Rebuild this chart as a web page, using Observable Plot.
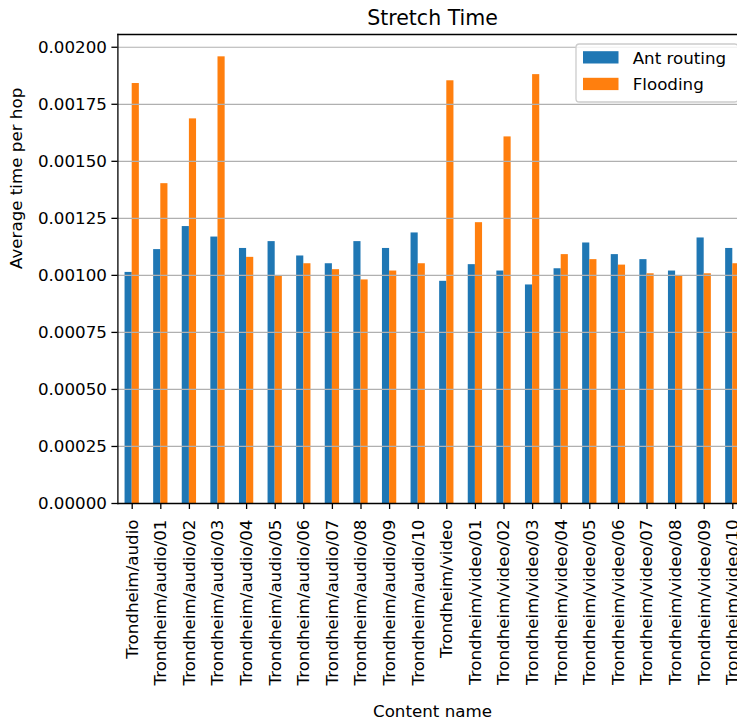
<!DOCTYPE html>
<html>
<head>
<meta charset="utf-8">
<script src="https://cdn.jsdelivr.net/npm/d3@7"></script>
<script src="https://cdn.jsdelivr.net/npm/@observablehq/plot@0.6"></script>
<style>
  html, body { margin: 0; padding: 0; background: #fff; overflow: hidden; }
  #chart svg { display: block; }
</style>
</head>
<body>
<div id="chart"></div>
<script>
// Content items along the x axis
const categories = [
  "Trondheim/audio", "Trondheim/audio/01", "Trondheim/audio/02", "Trondheim/audio/03",
  "Trondheim/audio/04", "Trondheim/audio/05", "Trondheim/audio/06", "Trondheim/audio/07",
  "Trondheim/audio/08", "Trondheim/audio/09", "Trondheim/audio/10",
  "Trondheim/video", "Trondheim/video/01", "Trondheim/video/02", "Trondheim/video/03",
  "Trondheim/video/04", "Trondheim/video/05", "Trondheim/video/06", "Trondheim/video/07",
  "Trondheim/video/08", "Trondheim/video/09", "Trondheim/video/10"
];

// Routing strategies
const series = ["Ant routing", "Flooding"];

// Average time per hop (seconds) for each content item
const antRouting = [
  0.001013, 0.001113, 0.001214, 0.001168, 0.001118, 0.001148, 0.001085, 0.001051,
  0.001148, 0.001118, 0.001186,
  0.000974, 0.001047, 0.001019, 0.000958, 0.001029, 0.001142, 0.001091, 0.001069,
  0.001019, 0.001164, 0.001118
];
const flooding = [
  0.001841, 0.001402, 0.001686, 0.001958, 0.001079, 0.000999, 0.001051, 0.001025,
  0.000980, 0.001019, 0.001051,
  0.001853, 0.001231, 0.001607, 0.001880, 0.001091, 0.001069, 0.001045, 0.001007,
  0.000997, 0.001007, 0.001051
];

// Y axis ticks
const yTicks = [0, 0.00025, 0.0005, 0.00075, 0.001, 0.00125, 0.0015, 0.00175, 0.002];

const colors = ["#1f77b4", "#ff7f0e"];

// Bar layout in category units: each group spans half a slot, split between the two series
const groupWidth = 0.5;
const barWidth = groupWidth / series.length;

// Long-format table for the grouped bars (category position i, series offset)
const rows = categories.flatMap((c, i) => [
  {i, category: c, series: series[0], value: antRouting[i], x1: i - groupWidth / 2, x2: i - groupWidth / 2 + barWidth},
  {i, category: c, series: series[1], value: flooding[i], x1: i - groupWidth / 2 + barWidth, x2: i + groupWidth / 2}
]);

const yMax = d3.max([...antRouting, ...flooding]) * 1.05;
const font = "DejaVu Sans";
const fs = 16.7;

const plot = Plot.plot({
  width: 737,
  height: 721,
  marginLeft: 117.4,
  marginRight: -9.6,
  marginTop: 34,
  marginBottom: 218,
  style: {fontFamily: font, fontSize: `${fs}px`, color: "#000", background: "#fff"},
  x: {domain: [-0.5, categories.length - 0.5], axis: null},
  y: {domain: [0, yMax], axis: null},
  color: {domain: series, range: colors},
  marks: [
    Plot.rectY(rows, {x1: "x1", x2: "x2", y: "value", fill: "series"}),
    Plot.gridY(yTicks, {stroke: "#b0b0b0", strokeOpacity: 1, strokeWidth: 1.2}),
    Plot.frame({anchor: "top", stroke: "#000", strokeWidth: 1.3}),
    Plot.frame({anchor: "bottom", stroke: "#000", strokeWidth: 1.3}),
    Plot.frame({anchor: "left", stroke: "#000", strokeWidth: 1.3}),
    Plot.axisY(yTicks, {
      anchor: "left", tickFormat: d3.format(".5f"), tickSize: 6, tickPadding: 5,
      strokeWidth: 1.3, fontSize: fs, label: null
    }),
    Plot.axisX(d3.range(categories.length), {
      anchor: "bottom", tickFormat: (i) => categories[i], tickRotate: -90, tickSize: 6, tickPadding: 10,
      strokeWidth: 1.3, fontSize: fs, label: null
    }),
    Plot.text(["Stretch Time"], {
      frameAnchor: "top", dy: -10, lineAnchor: "bottom", fontSize: 20.5
    }),
    Plot.text(["Content name"], {
      frameAnchor: "bottom", dy: 213, lineAnchor: "bottom", fontSize: fs
    }),
    Plot.text(["Average time per hop"], {
      frameAnchor: "left", rotate: -90, dx: -101.4, lineAnchor: "middle", fontSize: fs
    })
  ]
});

// Legend in the upper right corner of the axes
const color = plot.scale("color");
const lg = d3.select(plot).append("g")
  .attr("font-family", font)
  .attr("font-size", fs)
  .attr("text-anchor", "start");
lg.append("rect")
  .attr("x", 576).attr("y", 44).attr("width", 162).attr("height", 58)
  .attr("rx", 3.3)
  .attr("fill", "#fff").attr("fill-opacity", 0.8)
  .attr("stroke", "#cccccc").attr("stroke-width", 1.3);
color.domain.forEach((name, i) => {
  const top = 51.2 + i * 26.6;
  lg.append("rect")
    .attr("x", 583).attr("y", top).attr("width", 35.5).attr("height", 12.3)
    .attr("fill", color.apply(name));
  lg.append("text")
    .attr("x", 632.7).attr("y", top + 12.6)
    .attr("fill", "#000")
    .text(name);
});

document.getElementById("chart").appendChild(plot);
</script>
</body>
</html>
